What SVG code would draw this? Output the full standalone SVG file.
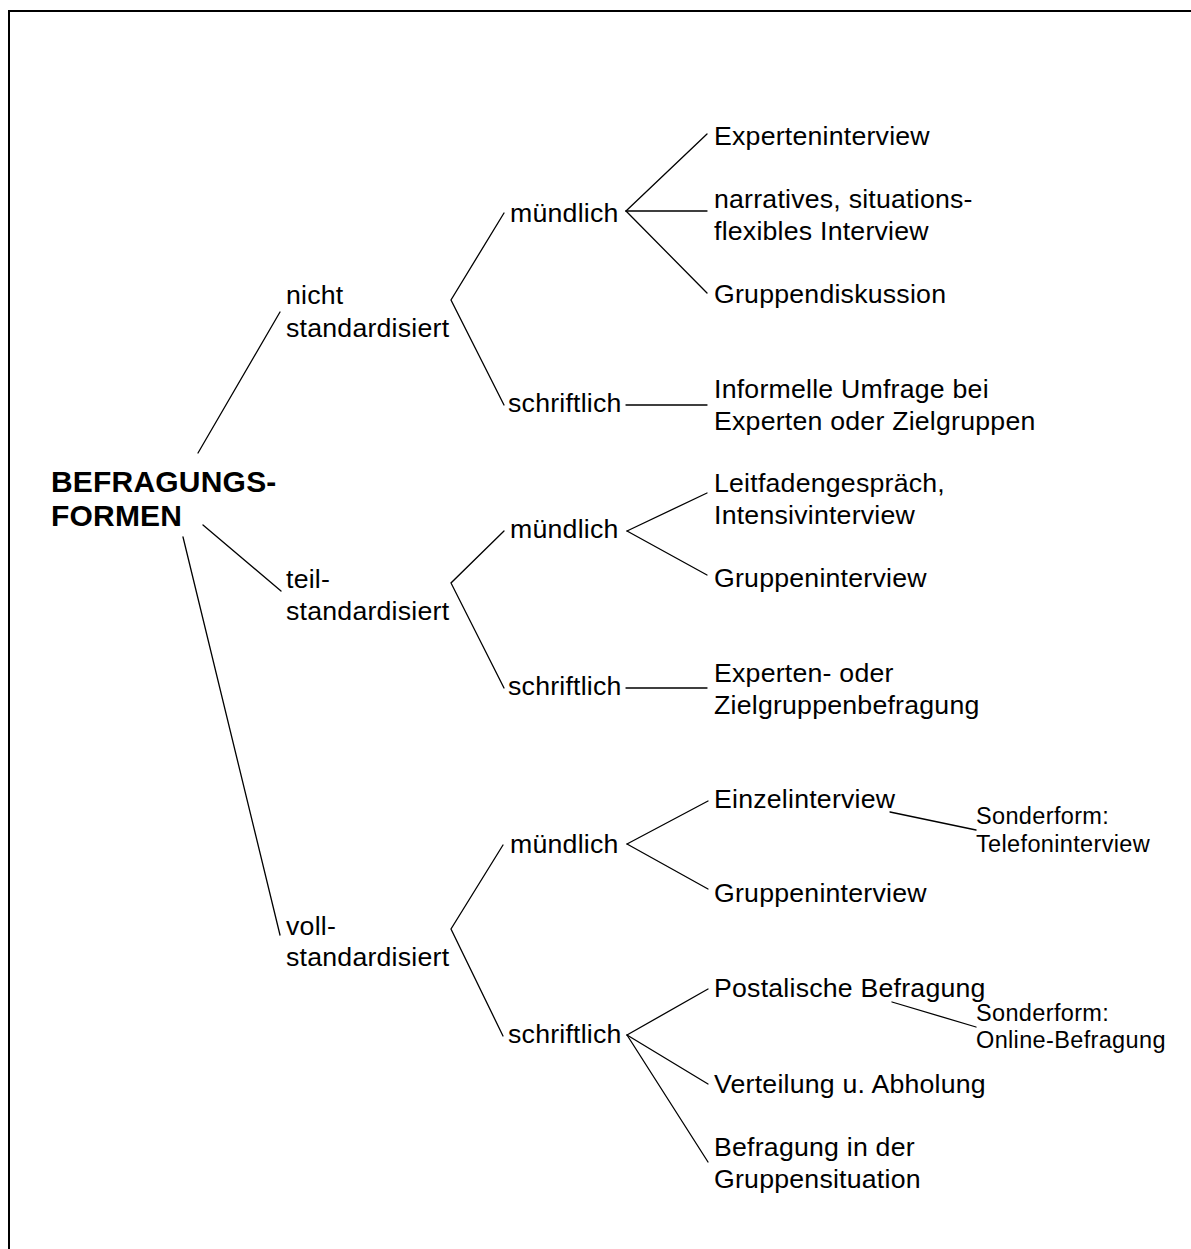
<svg xmlns="http://www.w3.org/2000/svg" width="1191" height="1249" viewBox="0 0 1191 1249">
  <style>
    .t { font-family: "Liberation Sans", Arial, sans-serif; font-size: 26.7px; letter-spacing: 0.22px; fill: #000; }
    .s { font-family: "Liberation Sans", Arial, sans-serif; font-size: 23.5px; letter-spacing: 0.35px; fill: #000; }
    .b { font-family: "Liberation Sans", Arial, sans-serif; font-size: 30px; font-weight: bold; letter-spacing: 0.2px; fill: #000; }
    .edge { stroke: #000; stroke-width: 1.3; fill: none; stroke-linecap: round; }
    .frame { stroke: #000; stroke-width: 2; fill: none; }
  </style>
  <rect width="1191" height="1249" fill="#fff"/>
  <path class="frame" d="M9,1249 V11 H1191"/>

  <g id="connectors">
    <!-- root to level 1 -->
    <line class="edge" x1="198" y1="453" x2="280" y2="312"/>
    <line class="edge" x1="203" y1="525" x2="281" y2="591"/>
    <line class="edge" x1="183" y1="537" x2="280" y2="935"/>
    <!-- level 1 to level 2 -->
    <polyline class="edge" points="504,213 451,300 504,405"/>
    <polyline class="edge" points="504,531 451,583 504,688"/>
    <polyline class="edge" points="503,845 451,929 503,1036"/>
    <!-- nicht standardisiert -->
    <line class="edge" x1="626" y1="211" x2="707" y2="134"/>
    <line class="edge" x1="626" y1="211" x2="707" y2="211"/>
    <line class="edge" x1="626" y1="211" x2="707" y2="293"/>
    <line class="edge" x1="626" y1="405" x2="707" y2="405"/>
    <!-- teilstandardisiert -->
    <line class="edge" x1="627" y1="531" x2="707" y2="493"/>
    <line class="edge" x1="627" y1="531" x2="707" y2="575"/>
    <line class="edge" x1="626" y1="688" x2="707" y2="688"/>
    <!-- vollstandardisiert -->
    <line class="edge" x1="627" y1="844" x2="708" y2="801"/>
    <line class="edge" x1="627" y1="844" x2="708" y2="889"/>
    <line class="edge" x1="627" y1="1035" x2="708" y2="989"/>
    <line class="edge" x1="627" y1="1035" x2="708" y2="1084"/>
    <line class="edge" x1="627" y1="1035" x2="708" y2="1162"/>
    <!-- special forms -->
    <line class="edge" x1="890" y1="812" x2="976" y2="830"/>
    <line class="edge" x1="892" y1="1002" x2="976" y2="1027"/>
  </g>

  <g id="root"><text class="b" x="51" y="492">BEFRAGUNGS-</text><text class="b" x="51" y="526">FORMEN</text></g>

  <g id="nicht-standardisiert"><text class="t" x="286" y="304">nicht</text><text class="t" x="286" y="337">standardisiert</text></g>
  <g id="teil-standardisiert"><text class="t" x="286" y="588">teil-</text><text class="t" x="286" y="620">standardisiert</text></g>
  <g id="voll-standardisiert"><text class="t" x="286" y="935">voll-</text><text class="t" x="286" y="966">standardisiert</text></g>

  <g id="m1"><text class="t" x="510" y="222">mündlich</text></g>
  <g id="s1"><text class="t" x="508" y="412">schriftlich</text></g>
  <g id="m2"><text class="t" x="510" y="538">mündlich</text></g>
  <g id="s2"><text class="t" x="508" y="695">schriftlich</text></g>
  <g id="m3"><text class="t" x="510" y="853">mündlich</text></g>
  <g id="s3"><text class="t" x="508" y="1043">schriftlich</text></g>

  <g id="experteninterview"><text class="t" x="714" y="145">Experteninterview</text></g>
  <g id="narratives"><text class="t" x="714" y="208">narratives, situations-</text><text class="t" x="714" y="240">flexibles Interview</text></g>
  <g id="gruppendiskussion"><text class="t" x="714" y="303">Gruppendiskussion</text></g>
  <g id="informelle-umfrage"><text class="t" x="714" y="398">Informelle Umfrage bei</text><text class="t" x="714" y="430">Experten oder Zielgruppen</text></g>

  <g id="leitfadengespraech"><text class="t" x="714" y="492">Leitfadengespräch,</text><text class="t" x="714" y="524">Intensivinterview</text></g>
  <g id="gruppeninterview-teil"><text class="t" x="714" y="587">Gruppeninterview</text></g>
  <g id="experten-zielgruppenbefragung"><text class="t" x="714" y="682">Experten- oder</text><text class="t" x="714" y="714">Zielgruppenbefragung</text></g>

  <g id="einzelinterview"><text class="t" x="714" y="808">Einzelinterview</text></g>
  <g id="telefoninterview"><text class="s" x="976" y="824">Sonderform:</text><text class="s" x="976" y="852">Telefoninterview</text></g>
  <g id="gruppeninterview-voll"><text class="t" x="714" y="902">Gruppeninterview</text></g>
  <g id="postalische-befragung"><text class="t" x="714" y="997">Postalische Befragung</text></g>
  <g id="online-befragung"><text class="s" x="976" y="1021">Sonderform:</text><text class="s" x="976" y="1048">Online-Befragung</text></g>
  <g id="verteilung-abholung"><text class="t" x="714" y="1093">Verteilung u. Abholung</text></g>
  <g id="gruppensituation"><text class="t" x="714" y="1156">Befragung in der</text><text class="t" x="714" y="1188">Gruppensituation</text></g>
</svg>
